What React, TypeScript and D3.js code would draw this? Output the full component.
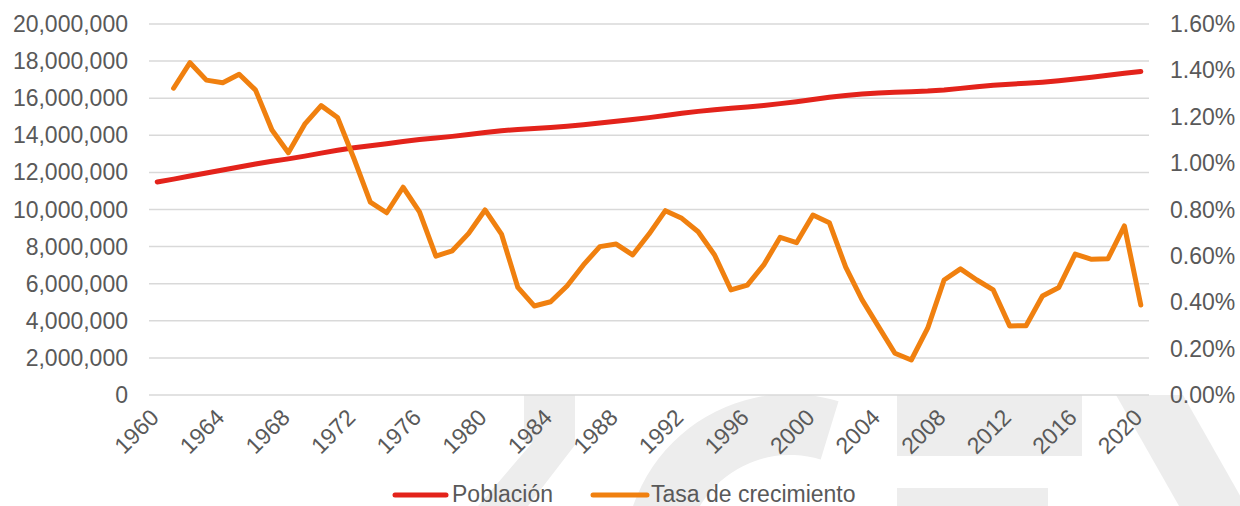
import React from "react";
import * as d3 from "d3";

const years: number[] = d3.range(1960, 2021);

const population: number[] = [
  11487000, 11639000, 11806000, 11966000, 12127000, 12295000, 12456000, 12598000, 12730000, 12878000,
  13039000, 13194000, 13329000, 13439000, 13545000, 13666000, 13774000, 13856000, 13942000, 14038000,
  14150000, 14247000, 14313000, 14367000, 14424000, 14492000, 14572000, 14665000, 14760000, 14849000,
  14952000, 15070000, 15184000, 15290000, 15383000, 15459000, 15530000, 15611000, 15707000, 15812000,
  15926000, 16046000, 16149000, 16225000, 16282000, 16320000, 16346000, 16382000, 16446000, 16530000,
  16615000, 16693000, 16755000, 16804000, 16865000, 16940000, 17030000, 17131000, 17232000, 17345000,
  17442000,
];

// growth rate in %, starts at 1961
const growth: (number | null)[] = [
  null, 1.323, 1.433, 1.358, 1.347, 1.383, 1.315, 1.143, 1.045, 1.168,
  1.248, 1.197, 1.02, 0.832, 0.786, 0.896, 0.79, 0.599, 0.622, 0.697,
  0.798, 0.694, 0.464, 0.384, 0.402, 0.47, 0.561, 0.64, 0.651, 0.604,
  0.694, 0.795, 0.762, 0.704, 0.604, 0.453, 0.474, 0.561, 0.68, 0.657,
  0.776, 0.743, 0.551, 0.41, 0.295, 0.18, 0.151, 0.288, 0.496, 0.544,
  0.496, 0.453, 0.298, 0.299, 0.427, 0.464, 0.608, 0.585, 0.588, 0.729,
  0.388,
];

const leftTicks: number[] = d3.range(0, 20000001, 2000000);
const rightTicks: number[] = d3.range(0, 1.6001, 0.2);
const xLabelYears: number[] = d3.range(1960, 2021, 4);

const W = 1240;
const H = 506;
const FONT = "'Liberation Sans', Arial, sans-serif";
const TEXT = "#595959";
const RED = "#e3231b";
const ORANGE = "#f0800f";
const WM = "#ededed";

export default function App() {
  const x = d3.scaleBand<number>().domain(years).range([149, 1149]).padding(0);
  const cx = (yr: number) => (x(yr) as number) + x.bandwidth() / 2;
  const yL = d3.scaleLinear().domain([0, 20000000]).range([395, 24]);
  const yR = d3.scaleLinear().domain([0, 1.6]).range([395, 24]);

  const popLine = d3
    .line<number>()
    .x((_, i) => cx(years[i]))
    .y((d) => yL(d))(population) as string;

  const growthLine = d3
    .line<number | null>()
    .defined((d) => d !== null)
    .x((_, i) => cx(years[i]))
    .y((d) => yR(d as number))(growth) as string;

  const fmt = d3.format(",");

  // watermark ring (partial "C")
  const ring = d3
    .arc()
    .innerRadius(105)
    .outerRadius(166)
    .startAngle(-Math.PI * 1.2)
    .endAngle((17 * Math.PI) / 180)({} as any) as string;

  return (
    <svg
      width={W}
      height={H}
      style={{ position: "absolute", left: 0, top: 0, background: "#fff" }}
      fontFamily={FONT}
    >
      <defs>
        <clipPath id="wmclip">
          <rect x={0} y={395} width={W} height={H - 395} />
        </clipPath>
      </defs>
      <g clipPath="url(#wmclip)" fill={WM}>
        <polygon points="524,395 575,395 575,445 528,506 478,506 532,443 524,443" />
        <path d={ring} transform="translate(790,560)" />
        <rect x={897} y={395} width={185} height={61} />
        <rect x={897} y={488} width={151} height={18} />
        <polygon points="1116,395 1183,395 1246,506 1179,506" />
      </g>

      {/* gridlines */}
      {leftTicks.map((t) => (
        <line
          key={"g" + t}
          x1={149}
          x2={1149}
          y1={yL(t)}
          y2={yL(t)}
          stroke="#d9d9d9"
          strokeWidth={1.5}
        />
      ))}

      {/* left axis labels */}
      {leftTicks.map((t) => (
        <text
          key={"l" + t}
          x={128}
          y={yL(t)}
          dy="0.35em"
          textAnchor="end"
          fontSize={23}
          fill={TEXT}
        >
          {fmt(t)}
        </text>
      ))}

      {/* right axis labels */}
      {rightTicks.map((t) => (
        <text
          key={"r" + t}
          x={1170}
          y={yR(t)}
          dy="0.35em"
          textAnchor="start"
          fontSize={23}
          fill={TEXT}
        >
          {t.toFixed(2) + "%"}
        </text>
      ))}

      {/* x labels */}
      {xLabelYears.map((yr) => (
        <text
          key={"x" + yr}
          transform={`translate(${cx(yr) + 3},${419}) rotate(-45)`}
          textAnchor="end"
          fontSize={23}
          fill={TEXT}
        >
          {yr}
        </text>
      ))}

      {/* lines */}
      <path d={popLine} fill="none" stroke={RED} strokeWidth={5} strokeLinejoin="round" strokeLinecap="round" />
      <path d={growthLine} fill="none" stroke={ORANGE} strokeWidth={5} strokeLinejoin="round" strokeLinecap="round" />

      {/* legend */}
      <line x1={395} x2={446} y1={495} y2={495} stroke={RED} strokeWidth={5} strokeLinecap="round" />
      <text x={452} y={502} fontSize={23} fill={TEXT}>
        Población
      </text>
      <line x1={593} x2={647} y1={495} y2={495} stroke={ORANGE} strokeWidth={5} strokeLinecap="round" />
      <text x={651} y={502} fontSize={23} fill={TEXT}>
        Tasa de crecimiento
      </text>
    </svg>
  );
}
